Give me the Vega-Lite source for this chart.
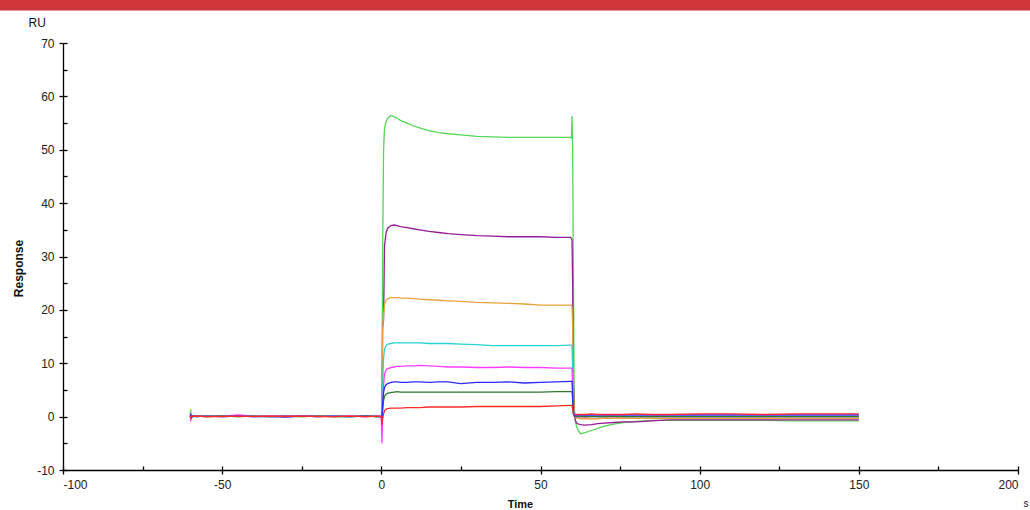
{
  "$schema": "https://vega.github.io/schema/vega-lite/v6.json",
  "width": 955,
  "height": 427,
  "autosize": {"type": "none"},
  "padding": {"left": 63, "top": 43, "right": 12, "bottom": 40},
  "background": "white",
  "config": {
    "view": {"stroke": null},
    "font": "Liberation Sans",
    "axis": {"domainColor": "#000", "tickColor": "#000", "labelColor": "#222", "labelFontSize": 12, "grid": false, "domainWidth": 1.3, "tickWidth": 1.3, "labelFont": "Liberation Sans", "titleFont": "Liberation Sans", "titleColor": "#111"}
  },
  "layer": [
    {
      "data": {"values": [{}]},
      "mark": {"type": "rect", "color": "#d0363a"},
      "encoding": {
        "x": {"datum": -125, "type": "quantitative", "scale": {"domain": [-100, 200], "nice": false, "zero": false},
          "axis": {"orient": "bottom", "values": [-100, -75, -50, -25, 0, 25, 50, 75, 100, 125, 150, 175, 200], "tickSize": -4, "labels": false, "domain": false, "title": "s", "titleX": 960, "titleY": 28, "titleAlign": "left", "titleBaseline": "top", "titleFontWeight": "normal", "titleFontSize": 10}},
        "x2": {"datum": 210},
        "y": {"datum": 76.1, "type": "quantitative", "scale": {"domain": [-10, 70], "nice": false, "zero": false},
          "axis": {"orient": "left", "values": [-10, -5, 0, 5, 10, 15, 20, 25, 30, 35, 40, 45, 50, 55, 60, 65, 70], "tickSize": -4, "labels": false, "domain": false, "title": "RU", "titleAngle": 0, "titleX": -35, "titleY": -17, "titleAlign": "left", "titleBaseline": "alphabetic", "titleFontWeight": "normal", "titleFontSize": 12}},
        "y2": {"datum": 85}
      }
    },
    {
      "data": {"values": [
        {"t": -60, "g": 0, "p": 0.1, "o": 0, "c": 0.1, "m": 0, "b": 0, "d": 0, "r": 0.1},
        {"t": -59.9, "g": 1.4, "p": 0.3, "o": 0.2, "c": -0.2, "m": -0.9, "b": 0.2, "d": 0.5, "r": -0.3},
        {"t": -59.7, "g": -0.4, "p": -0.2, "o": -0.1, "c": 0.1, "m": 0.3, "b": -0.1, "d": -0.2, "r": 0.2},
        {"t": -59.4, "g": 0.2, "p": 0.1, "o": 0.1, "c": 0, "m": 0, "b": 0.1, "d": 0, "r": 0},
        {"t": -58, "g": 0.1, "p": 0.2, "o": 0.1, "c": 0, "m": 0.1, "b": 0, "d": 0.1, "r": 0.1},
        {"t": -55, "g": 0, "p": 0.1, "o": 0.2, "c": 0.1, "m": 0, "b": 0.1, "d": 0, "r": 0},
        {"t": -50, "g": 0.1, "p": 0.2, "o": 0.1, "c": 0, "m": 0.1, "b": 0, "d": 0.1, "r": 0},
        {"t": -45, "g": 0, "p": 0.1, "o": 0.2, "c": 0.1, "m": 0.3, "b": 0.1, "d": 0, "r": 0.1},
        {"t": -40, "g": 0.1, "p": 0.1, "o": 0.1, "c": 0, "m": 0.1, "b": 0, "d": 0.1, "r": 0},
        {"t": -35, "g": 0, "p": 0.2, "o": 0.2, "c": 0.1, "m": 0.1, "b": 0, "d": 0, "r": 0.1},
        {"t": -30, "g": 0.1, "p": 0.2, "o": 0.1, "c": 0, "m": 0.2, "b": -0.1, "d": 0.1, "r": 0},
        {"t": -25, "g": 0, "p": 0.1, "o": 0.2, "c": 0.1, "m": 0.1, "b": 0.1, "d": 0, "r": 0.1},
        {"t": -20, "g": 0.1, "p": 0.1, "o": 0.2, "c": 0, "m": 0.1, "b": 0, "d": 0.1, "r": 0},
        {"t": -15, "g": 0, "p": 0.1, "o": 0.1, "c": 0.1, "m": 0, "b": 0.1, "d": 0, "r": 0},
        {"t": -10, "g": 0, "p": 0.1, "o": 0.1, "c": 0, "m": 0.1, "b": 0, "d": 0, "r": 0.1},
        {"t": -5, "g": 0.1, "p": 0, "o": 0.1, "c": 0.1, "m": 0, "b": 0.1, "d": 0.1, "r": 0},
        {"t": -1, "g": 0, "p": 0.1, "o": 0, "c": 0, "m": 0.1, "b": 0, "d": 0, "r": 0.1},
        {"t": -0.3, "g": 0, "p": 0, "o": 0.1, "c": 0, "m": 0, "b": 0.1, "d": 0, "r": 0},
        {"t": 0, "g": 0.1, "p": 0, "o": 0, "c": 0, "m": -0.5, "b": 0, "d": 0, "r": 0},
        {"t": 0.2, "g": 2, "p": 0, "o": 0, "c": 0.5, "m": -5, "b": -1, "d": 0.2, "r": -1.5},
        {"t": 0.4, "g": 30, "p": 17, "o": 16, "c": 6, "m": 1, "b": 2, "d": 1.5, "r": -0.5},
        {"t": 0.7, "g": 50, "p": 18, "o": 19, "c": 11, "m": 6, "b": 4.5, "d": 3, "r": 0.5},
        {"t": 1, "g": 54, "p": 32, "o": 21, "c": 12.6, "m": 8, "b": 5.5, "d": 3.8, "r": 1.1},
        {"t": 1.5, "g": 55.3, "p": 34.5, "o": 21.8, "c": 13.3, "m": 8.8, "b": 6, "d": 4.2, "r": 1.4},
        {"t": 2, "g": 55.9, "p": 35.3, "o": 22.1, "c": 13.6, "m": 9, "b": 6.2, "d": 4.4, "r": 1.5},
        {"t": 3, "g": 56.4, "p": 35.8, "o": 22.3, "c": 13.7, "m": 9.2, "b": 6.4, "d": 4.5, "r": 1.6},
        {"t": 4, "g": 56.2, "p": 35.9, "o": 22.3, "c": 13.8, "m": 9.3, "b": 6.5, "d": 4.6, "r": 1.6},
        {"t": 5, "g": 55.9, "p": 35.8, "o": 22.3, "c": 13.8, "m": 9.4, "b": 6.5, "d": 4.7, "r": 1.6},
        {"t": 6, "g": 55.5, "p": 35.6, "o": 22.2, "c": 13.8, "m": 9.4, "b": 6.4, "d": 4.6, "r": 1.6},
        {"t": 8, "g": 55, "p": 35.4, "o": 22.2, "c": 13.8, "m": 9.5, "b": 6.4, "d": 4.6, "r": 1.7},
        {"t": 10, "g": 54.5, "p": 35.2, "o": 22.1, "c": 13.8, "m": 9.5, "b": 6.5, "d": 4.6, "r": 1.7},
        {"t": 12, "g": 54.1, "p": 35, "o": 22, "c": 13.8, "m": 9.6, "b": 6.5, "d": 4.6, "r": 1.7},
        {"t": 15, "g": 53.6, "p": 34.7, "o": 21.9, "c": 13.7, "m": 9.5, "b": 6.4, "d": 4.6, "r": 1.8},
        {"t": 18, "g": 53.2, "p": 34.5, "o": 21.8, "c": 13.7, "m": 9.4, "b": 6.5, "d": 4.6, "r": 1.8},
        {"t": 21, "g": 53, "p": 34.3, "o": 21.7, "c": 13.7, "m": 9.3, "b": 6.5, "d": 4.6, "r": 1.8},
        {"t": 25, "g": 52.8, "p": 34.1, "o": 21.6, "c": 13.6, "m": 9.3, "b": 6.2, "d": 4.6, "r": 1.8},
        {"t": 30, "g": 52.5, "p": 33.9, "o": 21.4, "c": 13.5, "m": 9.2, "b": 6.4, "d": 4.6, "r": 1.9},
        {"t": 35, "g": 52.4, "p": 33.8, "o": 21.3, "c": 13.3, "m": 9.2, "b": 6.4, "d": 4.6, "r": 1.9},
        {"t": 40, "g": 52.3, "p": 33.7, "o": 21.2, "c": 13.3, "m": 9.3, "b": 6.5, "d": 4.6, "r": 1.9},
        {"t": 45, "g": 52.3, "p": 33.7, "o": 21.1, "c": 13.3, "m": 9.2, "b": 6.3, "d": 4.6, "r": 1.9},
        {"t": 50, "g": 52.3, "p": 33.7, "o": 20.9, "c": 13.3, "m": 9.2, "b": 6.4, "d": 4.6, "r": 1.9},
        {"t": 55, "g": 52.3, "p": 33.6, "o": 20.9, "c": 13.3, "m": 9.1, "b": 6.5, "d": 4.7, "r": 2},
        {"t": 59.4, "g": 52.3, "p": 33.6, "o": 20.9, "c": 13.4, "m": 9.1, "b": 6.6, "d": 4.7, "r": 2.1},
        {"t": 59.7, "g": 52.2, "p": 33.4, "o": 20.9, "c": 13.4, "m": 9.1, "b": 6.6, "d": 4.7, "r": 2.1},
        {"t": 59.9, "g": 56.3, "p": 33, "o": 20.5, "c": 13.2, "m": 9, "b": 6.6, "d": 4.7, "r": 2},
        {"t": 60.1, "g": 50.2, "p": 25, "o": 17, "c": 9, "m": 6, "b": 4, "d": 3, "r": 1.5},
        {"t": 60.3, "g": 30, "p": 8, "o": 5, "c": 2, "m": 1, "b": 1, "d": 0.5, "r": 0.6},
        {"t": 60.6, "g": 2, "p": 0.5, "o": 0.5, "c": 0.3, "m": 0, "b": 0.4, "d": 0.1, "r": 0.5},
        {"t": 61, "g": -1, "p": -0.8, "o": -0.2, "c": 0.1, "m": -0.1, "b": 0.3, "d": 0, "r": 0.4},
        {"t": 61.5, "g": -2.2, "p": -1.3, "o": -0.3, "c": 0.1, "m": -0.1, "b": 0.3, "d": 0, "r": 0.4},
        {"t": 62.5, "g": -3.2, "p": -1.5, "o": -0.4, "c": 0.1, "m": 0, "b": 0.3, "d": 0, "r": 0.4},
        {"t": 64, "g": -3, "p": -1.6, "o": -0.4, "c": 0.1, "m": -0.1, "b": 0.3, "d": 0, "r": 0.4},
        {"t": 66, "g": -2.6, "p": -1.5, "o": -0.4, "c": 0.1, "m": 0, "b": 0.3, "d": 0, "r": 0.5},
        {"t": 68, "g": -2.2, "p": -1.3, "o": -0.4, "c": 0, "m": 0, "b": 0.3, "d": 0, "r": 0.4},
        {"t": 70, "g": -1.8, "p": -1.2, "o": -0.3, "c": 0, "m": 0, "b": 0.3, "d": 0, "r": 0.4},
        {"t": 73, "g": -1.4, "p": -1.1, "o": -0.3, "c": 0.1, "m": 0, "b": 0.3, "d": 0, "r": 0.4},
        {"t": 76, "g": -1.1, "p": -1, "o": -0.3, "c": 0, "m": 0, "b": 0.3, "d": 0, "r": 0.4},
        {"t": 80, "g": -0.9, "p": -1, "o": -0.3, "c": 0, "m": 0, "b": 0.3, "d": 0, "r": 0.5},
        {"t": 85, "g": -0.7, "p": -0.8, "o": -0.3, "c": 0, "m": 0, "b": 0.3, "d": 0, "r": 0.4},
        {"t": 90, "g": -0.7, "p": -0.6, "o": -0.3, "c": 0, "m": 0, "b": 0.3, "d": 0, "r": 0.4},
        {"t": 100, "g": -0.7, "p": -0.6, "o": -0.3, "c": 0, "m": 0, "b": 0.3, "d": 0, "r": 0.5},
        {"t": 110, "g": -0.7, "p": -0.6, "o": -0.3, "c": 0, "m": 0, "b": 0.3, "d": 0, "r": 0.5},
        {"t": 120, "g": -0.7, "p": -0.6, "o": -0.3, "c": 0, "m": 0, "b": 0.3, "d": 0, "r": 0.4},
        {"t": 130, "g": -0.8, "p": -0.6, "o": -0.3, "c": 0, "m": 0, "b": 0.3, "d": 0, "r": 0.5},
        {"t": 140, "g": -0.8, "p": -0.6, "o": -0.3, "c": 0, "m": 0, "b": 0.3, "d": 0, "r": 0.5},
        {"t": 150, "g": -0.8, "p": -0.6, "o": -0.3, "c": 0, "m": 0, "b": 0.3, "d": 0, "r": 0.5}
      ]},
      "transform": [{"fold": ["g", "p", "o", "c", "m", "d", "b", "r"], "as": ["s", "y"]}],
      "mark": {"type": "line", "strokeWidth": 1.3},
      "encoding": {
        "x": {"field": "t", "type": "quantitative", "scale": {"domain": [-100, 200], "nice": false, "zero": false},
          "axis": {"orient": "bottom", "values": [-100, -50, 0, 50, 100, 150, 200], "labelExpr": "'' + datum.value", "tickSize": 4, "labelPadding": 5, "title": "Time", "titleFontWeight": "bold", "titleFontSize": 11, "titleX": 457, "titleY": 28, "titleBaseline": "top", "titleAlign": "center"}},
        "y": {"field": "y", "type": "quantitative", "scale": {"domain": [-10, 70], "nice": false, "zero": false},
          "axis": {"orient": "left", "values": [-10, 0, 10, 20, 30, 40, 50, 60, 70], "labelExpr": "'' + datum.value", "tickSize": 4, "labelPadding": 5, "title": "Response", "titleFontWeight": "bold", "titleFontSize": 12, "titleAngle": -90, "titleX": -45, "titleY": 225, "titleAlign": "center", "titleBaseline": "middle"}},
        "color": {"field": "s", "type": "nominal", "legend": null,
          "scale": {"domain": ["g", "p", "o", "c", "m", "d", "b", "r"], "range": ["#55d655", "#961b96", "#e8a33a", "#2ad2d2", "#ff3cff", "#2e7a2e", "#2a2aff", "#ff2a2a"]}}
      }
    }
  ],
  "resolve": {"axis": {"x": "independent", "y": "independent"}}
}
